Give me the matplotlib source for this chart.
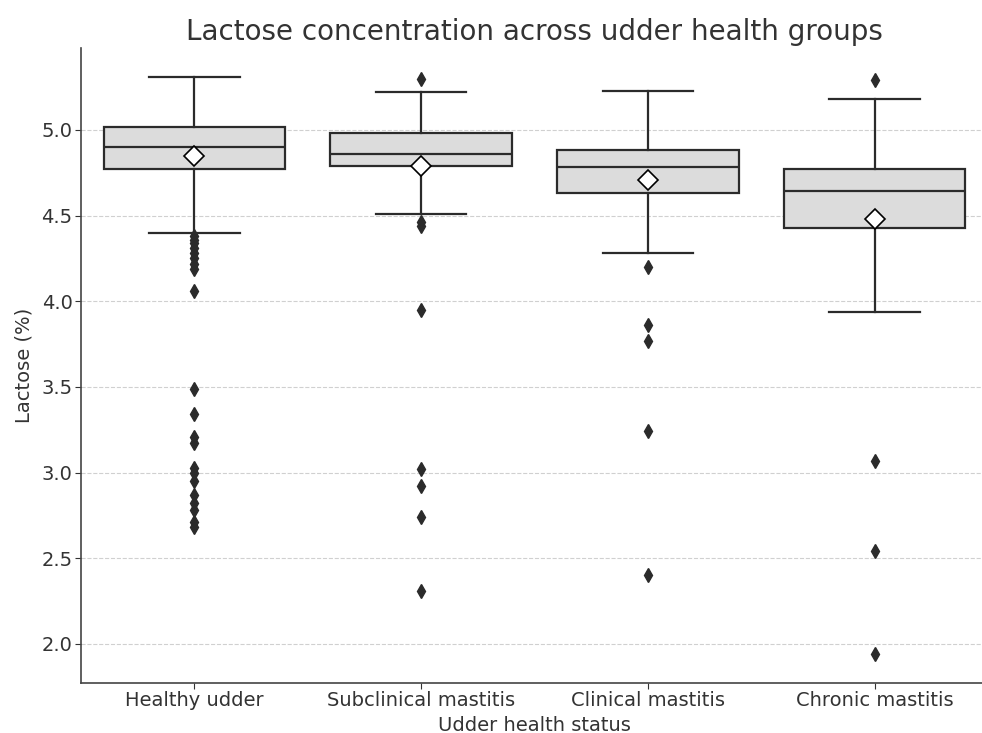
import matplotlib
matplotlib.use("Agg")
import matplotlib.pyplot as plt

groups = ["Healthy udder", "Subclinical mastitis", "Clinical mastitis", "Chronic mastitis"]

whislo = [4.40, 4.51, 4.28, 3.94]
q1     = [4.77, 4.79, 4.63, 4.43]
med    = [4.90, 4.86, 4.785, 4.645]
q3     = [5.02, 4.98, 4.885, 4.77]
whishi = [5.31, 5.22, 5.23, 5.18]
means  = [4.85, 4.79, 4.71, 4.48]

fliers_healthy = [4.38, 4.36, 4.34, 4.31, 4.28, 4.25, 4.22, 4.19, 4.06,
                  3.49, 3.34, 3.21, 3.17, 3.025, 3.00, 2.95, 2.87, 2.82,
                  2.78, 2.71, 2.68]
fliers_subclin = [5.30, 4.46, 4.44, 3.95, 3.02, 2.92, 2.74, 2.31]
fliers_clin    = [4.20, 3.86, 3.77, 3.24, 2.40]
fliers_chronic = [5.29, 3.07, 2.54, 1.94]
fliers = [fliers_healthy, fliers_subclin, fliers_clin, fliers_chronic]

stats = []
for i, name in enumerate(groups):
    stats.append(dict(label=name, whislo=whislo[i], q1=q1[i], med=med[i],
                      q3=q3[i], whishi=whishi[i], mean=means[i], fliers=fliers[i]))

edge = "#2b2b2b"

fig = plt.figure(figsize=(9.82, 7.33), dpi=100)
ax = fig.add_axes([81 / 982, 50 / 733, 907 / 982, 635 / 733])

ax.bxp(stats, positions=range(4), widths=0.8, patch_artist=True,
       showmeans=True,
       boxprops=dict(facecolor="#dcdcdc", edgecolor=edge, linewidth=1.6),
       medianprops=dict(color=edge, linewidth=1.6),
       whiskerprops=dict(color=edge, linewidth=1.6),
       capprops=dict(color=edge, linewidth=1.6),
       capwidths=0.4,
       flierprops=dict(marker="d", markerfacecolor=edge, markeredgecolor=edge,
                       markersize=7),
       meanprops=dict(marker="D", markerfacecolor="white", markeredgecolor="black",
                      markersize=10, markeredgewidth=1.2))

ax.set_xlim(-0.5, 3.5)
ax.margins(y=0.05)
ax.set_yticks([2.0, 2.5, 3.0, 3.5, 4.0, 4.5, 5.0])
ax.yaxis.grid(True, linestyle="--", color="#d0d0d0", linewidth=0.8)
ax.set_axisbelow(True)

for s in ["top", "right"]:
    ax.spines[s].set_visible(False)
for s in ["left", "bottom"]:
    ax.spines[s].set_color("#444444")
    ax.spines[s].set_linewidth(1.2)

ax.tick_params(labelsize=14, colors="#333333", length=4, pad=2)
ax.set_xlabel("Udder health status", fontsize=14, color="#333333", labelpad=4)
ax.set_ylabel("Lactose (%)", fontsize=14, color="#333333", labelpad=6)
ax.set_title("Lactose concentration across udder health groups",
             fontsize=20, color="#333333", pad=6)

fig.savefig("out.png", dpi=100)
